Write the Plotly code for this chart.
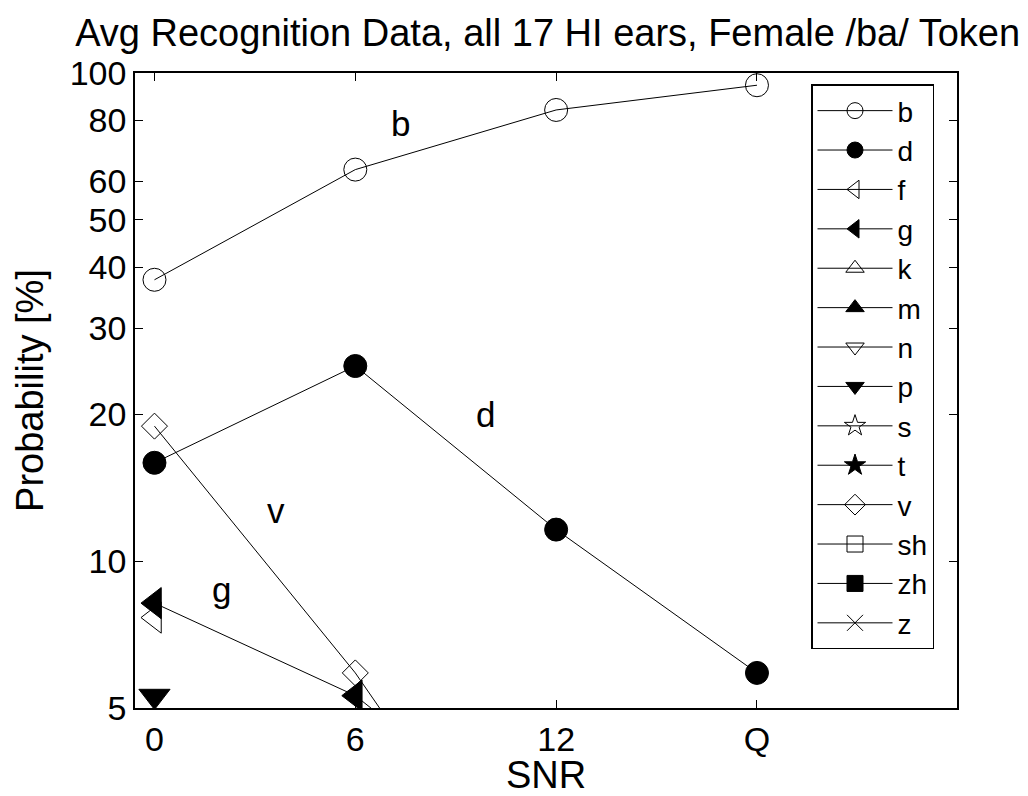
import math
import plotly.graph_objects as go

# x categories (SNR)
x_labels = ["0", "6", "12", "Q"]
x_pos = [0, 1, 2, 3]

series_names = ["b", "d", "f", "g", "k", "m", "n", "p", "s", "t", "v", "sh", "zh", "z"]

# Recognition probabilities [%]; None = no response (not plotted on log axis)
b_vals = [37.7, 63.4, 84.0, 94.4]
d_vals = [15.9, 25.1, 11.6, 5.9]
f_vals = [7.66, None, None, None]
g_vals = [8.2, 5.3, 2.5, None]
k_vals = [None, None, None, None]
m_vals = [None, None, None, None]
n_vals = [None, None, None, None]
p_vals = [5.29, None, None, None]
s_vals = [None, None, None, None]
t_vals = [None, None, None, None]
v_vals = [18.9, 5.9, 1.5, None]
sh_vals = [None, None, None, None]
zh_vals = [None, None, None, None]
z_vals = [None, None, None, None]

values = [b_vals, d_vals, f_vals, g_vals, k_vals, m_vals, n_vals, p_vals,
          s_vals, t_vals, v_vals, sh_vals, zh_vals, z_vals]

symbols = ["circle-open", "circle", "triangle-left-open", "triangle-left",
           "triangle-up-open", "triangle-up", "triangle-down-open", "triangle-down",
           "star-open", "star", "diamond-open", "square-open", "square", "x-thin-open"]
sizes = [23, 23, 27, 27, 27, 27, 27, 27, 22, 22, 20, 18, 18, 18]

FONT = "Liberation Sans, Arial, Helvetica, sans-serif"

fig = go.Figure()
for name, vals, sym, sz in zip(series_names, values, symbols, sizes):
    fig.add_trace(go.Scatter(
        x=x_pos, y=vals, name=name, mode="lines+markers",
        line=dict(color="black", width=1),
        marker=dict(symbol=sym, size=sz, color="black",
                    line=dict(color="black", width=1)),
        cliponaxis=True,
    ))

# curve labels (text placed next to the curves)
labels = [("b", 1.2226, 78.9), ("d", 1.646, 20.0), ("v", 0.6036, 12.72), ("g", 0.3346, 8.74)]
for txt, xx, yy in labels:
    fig.add_annotation(x=xx, y=math.log10(yy), text=txt, showarrow=False,
                       font=dict(size=35, color="black", family=FONT),
                       xanchor="center", yanchor="middle")

fig.update_layout(
    width=1020, height=788,
    paper_bgcolor="white", plot_bgcolor="white",
    margin=dict(l=127, r=71, t=65, b=83),
    font=dict(family=FONT, color="black", size=34),
    title=dict(text="Avg Recognition Data, all 17 HI ears, Female /ba/ Token",
               xref="paper", x=0.502, xanchor="center", y=0.969, yanchor="middle",
               font=dict(size=38, family=FONT, color="black")),
    showlegend=True,
    legend=dict(
        x=0.8224, y=0.982, xanchor="left", yanchor="top",
        bgcolor="white", bordercolor="black", borderwidth=1.5,
        font=dict(size=28, family=FONT, color="black"),
        traceorder="normal",
        itemwidth=75,
    ),
)

fig.update_xaxes(
    range=[-0.097, 3.996], tickvals=x_pos, ticktext=x_labels,
    ticks="inside", ticklen=8, tickwidth=1, tickcolor="black",
    showline=True, linecolor="black", linewidth=1.5, mirror="ticks",
    showgrid=False, zeroline=False,
    title=dict(text="SNR", font=dict(size=38, family=FONT), standoff=0),
    tickfont=dict(size=34, family=FONT),
)
fig.update_yaxes(
    type="log", range=[math.log10(5), 2],
    tickvals=[5, 10, 20, 30, 40, 50, 60, 80, 100],
    ticktext=["5", "10", "20", "30", "40", "50", "60", "80", "100"],
    ticks="inside", ticklen=8, tickwidth=1, tickcolor="black",
    showline=True, linecolor="black", linewidth=1.5, mirror="ticks",
    showgrid=False, zeroline=False,
    title=dict(text="Probability [%]", font=dict(size=38, family=FONT), standoff=14),
    tickfont=dict(size=34, family=FONT),
)

fig.write_html("out.html")
